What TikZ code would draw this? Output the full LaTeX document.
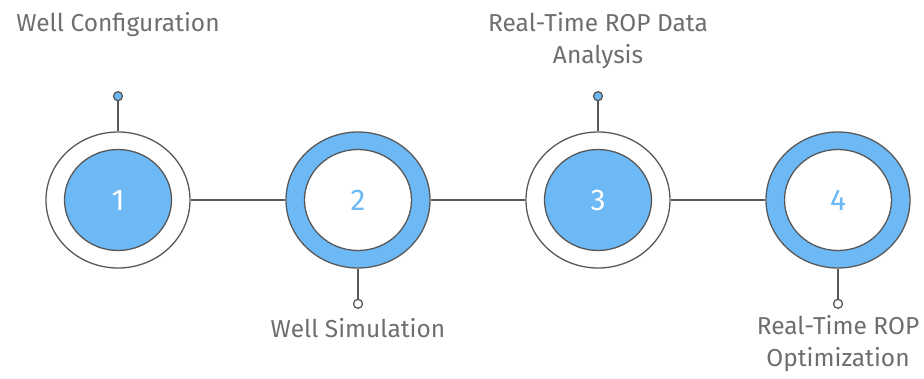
\documentclass[tikz,border=0pt]{standalone}
\usepackage{fontspec}
\setmainfont{Fira Sans}
\usepackage{tikz}
\usetikzlibrary{positioning, shapes.geometric}
\definecolor{stepblue}{HTML}{6DB9F5}
\definecolor{linegray}{HTML}{585858}
\definecolor{txtgray}{HTML}{6E6E6E}

\begin{document}
\begin{tikzpicture}[x=1pt, y=-1pt, line width=1.3pt, node distance=30pt,
  ring/.style={ellipse, draw=linegray, minimum width=144pt, minimum height=136pt, inner sep=0pt},
  core/.style={ellipse, draw=linegray, minimum width=107pt, minimum height=101pt, inner sep=0pt, font=\fontsize{30}{34}\selectfont},
  pin/.style={circle, draw=linegray, minimum size=9pt, inner sep=0pt},
  lbl/.style={align=center, text=txtgray, font=\fontsize{24.5}{32}\selectfont}]
  \useasboundingbox (0,0) rectangle (924,378);
  % rings
  \node[ring, fill=white] (r1) at (118,200) {};
  \node[ring, fill=stepblue] (r2) at (358,200) {};
  \node[ring, fill=white] (r3) at (598,200) {};
  \node[ring, fill=stepblue] (r4) at (838,200) {};
  \node[core, fill=stepblue, text=white] (c1) at (r1.center) {1};
  \node[core, fill=white, text=stepblue] (c2) at (r2.center) {2};
  \node[core, fill=stepblue, text=white] (c3) at (r3.center) {3};
  \node[core, fill=white, text=stepblue] (c4) at (r4.center) {4};
  \draw[linegray] (r1) -- (r2) (r2) -- (r3) (r3) -- (r4);
  % pins
  \node[pin, fill=stepblue, above=of r1] (p1) {};
  \node[pin, fill=white, below=of r2] (p2) {};
  \node[pin, fill=stepblue, above=of r3] (p3) {};
  \node[pin, fill=white, below=of r4] (p4) {};
  \foreach \i in {1,...,4} \draw[linegray] (r\i) -- (p\i);
  % labels
  \node[lbl] (l1) at (118,25) {Well Configuration};
  \node[lbl] (l2) at (358,328) {Well Simulation};
  \node[lbl] (l3) at (598,41) {Real-Time ROP Data\\Analysis};
  \node[lbl] (l4) at (838,344) {Real-Time ROP\\Optimization};
\end{tikzpicture}
\end{document}
